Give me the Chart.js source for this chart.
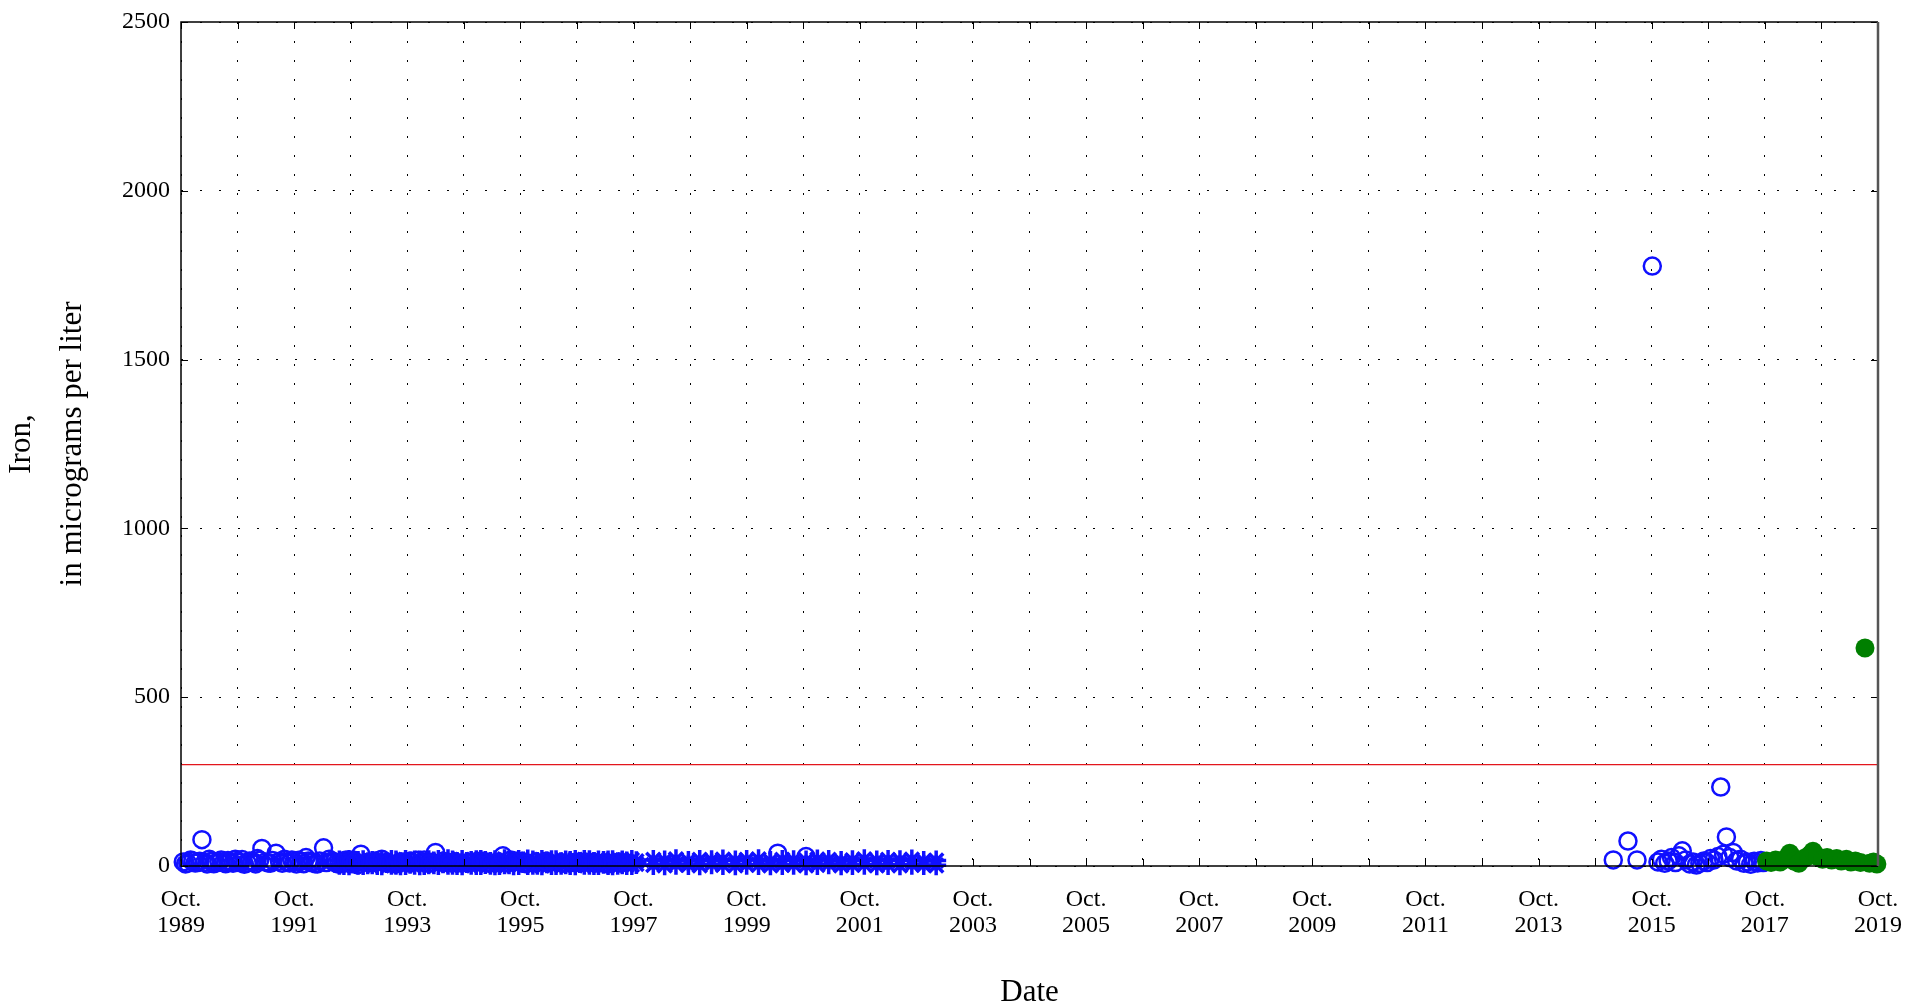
<!DOCTYPE html>
<html>
<head>
<meta charset="utf-8">
<script src="https://cdn.jsdelivr.net/npm/chart.js@4.4.1/dist/chart.umd.min.js"></script>
<style>
  body { margin: 0; background: #fff; }
  canvas { display: block; }
</style>
</head>
<body>
<canvas id="ironChart" width="1906" height="1008"></canvas>
<script>
// dates are decimal years, values are micrograms per liter
const circleDates = [
  1989.79, 1989.87, 1989.96, 1990.04, 1990.12, 1990.21, 1990.29, 1990.37, 1990.46, 1990.54,
  1990.62, 1990.71, 1990.79, 1990.87, 1990.96, 1991.04, 1991.10, 1991.18, 1991.29, 1991.37,
  1991.43, 1991.54, 1991.62, 1991.71, 1991.79, 1991.87, 1991.96, 1992.04, 1992.12, 1992.20,
  1992.27, 1992.37, 1992.46, 1992.54, 1992.62, 1992.71, 1992.79, 1992.87, 1992.93, 1993.05,
  1993.30, 1993.55, 1993.80, 1994.05, 1994.25, 1994.50, 1994.90, 1995.20, 1995.44, 1995.70,
  1996.00, 1996.50, 1996.90, 1997.30, 2000.30, 2000.80,
  2015.07, 2015.33, 2015.49, 2015.76, 2015.86, 2015.92, 2015.98, 2016.04, 2016.10, 2016.17,
  2016.23, 2016.29, 2016.35, 2016.42, 2016.48, 2016.54, 2016.60, 2016.67, 2016.73, 2016.79,
  2016.85, 2016.92, 2016.97, 2017.02, 2017.07, 2017.13, 2017.19, 2017.25, 2017.32, 2017.38,
  2017.44, 2017.50, 2017.56, 2017.62, 2017.68, 2017.72
];
const circleValues = [
  12, 8, 15, 10, 78, 6, 14, 9, 18, 7,
  12, 20, 10, 5, 15, 11, 22, 52, 9, 16,
  38, 8, 12, 18, 6, 14, 25, 10, 7, 15,
  54, 20, 12, 5, 15, 9, 18, 4, 35, 11,
  20, 6, 14, 18, 40, 10, 12, 8, 30, 15,
  10, 8, 12, 6, 38, 28,
  18, 74, 18, 1777, 12, 20, 8, 15, 25, 10,
  30, 45, 18, 6, 12, 3, 8, 15, 10, 22,
  18, 28, 234, 35, 86, 25, 40, 15, 20, 8,
  12, 5, 14, 9, 16, 10
];
// second sample set taken in the early years
const repeatDates = [
  1989.83, 1989.92, 1990.00, 1990.08, 1990.17, 1990.25, 1990.33, 1990.42, 1990.50, 1990.58,
  1990.67, 1990.75, 1990.83, 1990.92, 1991.00, 1991.07, 1991.14, 1991.24, 1991.33, 1991.49,
  1991.58, 1991.67, 1991.75, 1991.83, 1991.92, 1992.00, 1992.08, 1992.16, 1992.32, 1992.42,
  1992.50, 1992.58, 1992.67, 1992.75, 1992.83, 1993.18, 1993.42, 1993.68, 1993.92, 1994.15,
  1994.38, 1994.70, 1995.05, 1995.32, 1995.58, 1995.85, 1996.20, 1996.70, 1997.10, 1997.50
];
const repeatValues = [
  6, 18, 9, 14, 11, 20, 7, 13, 10, 16,
  8, 14, 19, 9, 13, 6, 17, 12, 8, 14,
  20, 9, 13, 17, 7, 15, 12, 6, 10, 15,
  8, 12, 18, 7, 13, 15, 9, 12, 17, 8,
  14, 9, 15, 10, 18, 7, 14, 10, 9, 12
];

const starDatesA = [
  1992.55, 1992.63, 1992.72, 1992.80, 1992.88, 1992.97, 1993.05, 1993.13,
  1993.22, 1993.30, 1993.38, 1993.47, 1993.55, 1993.63, 1993.72, 1993.80,
  1993.88, 1993.97, 1994.05, 1994.13, 1994.22, 1994.30, 1994.38, 1994.47,
  1994.55, 1994.63, 1994.72, 1994.80, 1994.88, 1994.97, 1995.05, 1995.13,
  1995.22, 1995.30, 1995.38, 1995.47, 1995.55, 1995.63, 1995.72, 1995.80,
  1995.88, 1995.97, 1996.05, 1996.13, 1996.22, 1996.30, 1996.38, 1996.47,
  1996.55, 1996.63, 1996.72, 1996.80, 1996.88, 1996.97, 1997.05, 1997.13,
  1997.22, 1997.30, 1997.38, 1997.47, 1997.55, 1997.63, 1997.72, 1997.80
];
const starValuesA = [
  4, 12, 2, 8, 15, 3, 10, 5,
  14, 2, 9, 18, 4, 11, 3, 7,
  16, 2, 10, 5, 13, 3, 8, 20,
  4, 12, 2, 9, 15, 3, 18, 6,
  12, 2, 10, 20, 5, 14, 3, 9,
  19, 4, 12, 2, 8, 17, 3, 11,
  5, 15, 2, 9, 18, 4, 12, 3,
  7, 16, 2, 10, 5, 13, 3, 6
];
const starValuesA2 = [
  16, 3, 18, 14, 4, 17, 5, 15,
  3, 17, 12, 4, 16, 2, 18, 13,
  4, 16, 3, 17, 5, 18, 12, 4,
  16, 3, 18, 12, 4, 17, 3, 15,
  4, 17, 3, 5, 16, 2, 18, 13,
  3, 16, 4, 18, 13, 3, 17, 4,
  16, 3, 18, 12, 4, 17, 3, 16,
  15, 3, 17, 4, 16, 3, 18, 14
];
const starDatesB = [
  1998.10, 1998.30, 1998.50, 1998.72, 1998.92, 1999.13, 1999.33, 1999.55, 1999.75, 1999.96,
  2000.17, 2000.38, 2000.58, 2000.80, 2001.00, 2001.20, 2001.42, 2001.62, 2001.83, 2002.05,
  2002.25, 2002.46, 2002.67, 2002.88, 2003.10
];
const starUpperB = [
  18, 16, 20, 15, 18, 17, 19, 16, 18, 20,
  15, 18, 17, 16, 19, 18, 15, 17, 20, 16,
  18, 17, 19, 15, 16
];
const starLowerB = [
  3, 2, 4, 3, 2, 5, 3, 2, 4, 3,
  2, 3, 4, 2, 3, 5, 2, 3, 4, 2,
  3, 2, 4, 3, 2
];

const filledDates = [
  2017.78, 2017.86, 2017.94, 2018.02, 2018.10, 2018.19, 2018.27, 2018.35, 2018.44, 2018.52,
  2018.60, 2018.68, 2018.77, 2018.85, 2018.93, 2019.02, 2019.10, 2019.19, 2019.27, 2019.35,
  2019.44, 2019.52, 2019.60, 2019.67, 2019.73
];
const filledValues = [
  15, 10, 18, 12, 20, 38, 14, 8, 22, 30,
  44, 28, 20, 25, 18, 22, 15, 20, 12, 15,
  10, 646, 8, 12, 6
];

const limitValue = 300;
const xStart = 1989.75;
const xEnd = 2019.75;
const xTickYears = ['1989', '1991', '1993', '1995', '1997', '1999', '2001', '2003',
  '2005', '2007', '2009', '2011', '2013', '2015', '2017', '2019'];
const yTicks = [0, 500, 1000, 1500, 2000, 2500];

const pts = (xs, ys) => xs.map((x, i) => ({x: x, y: ys[i]}));

const serif = 'Liberation Serif';

const frame = {
  id: 'frame',
  afterDatasetsDraw(chart) {
    const {ctx, chartArea: a, scales} = chart;
    ctx.save();
    ctx.strokeStyle = '#000';
    ctx.lineWidth = 1;
    scales.x.ticks.forEach(t => {
      const px = Math.round(scales.x.getPixelForValue(t.value)) + 0.5;
      ctx.beginPath();
      ctx.moveTo(px, a.bottom); ctx.lineTo(px, a.bottom - 7);
      ctx.moveTo(px, a.top); ctx.lineTo(px, a.top + 7);
      ctx.stroke();
    });
    scales.y.ticks.forEach(t => {
      const py = Math.round(scales.y.getPixelForValue(t.value)) + 0.5;
      ctx.beginPath();
      ctx.moveTo(a.left, py); ctx.lineTo(a.left + 7, py);
      ctx.moveTo(a.right, py); ctx.lineTo(a.right - 7, py);
      ctx.stroke();
    });
    ctx.lineWidth = 1.5;
    ctx.beginPath();
    ctx.moveTo(a.right, a.top);
    ctx.lineTo(a.left, a.top);
    ctx.lineTo(a.left, a.bottom);
    ctx.lineTo(a.right, a.bottom);
    ctx.stroke();
    ctx.strokeStyle = '#555';
    ctx.lineWidth = 2.5;
    ctx.beginPath();
    ctx.moveTo(a.right, a.top);
    ctx.lineTo(a.right, a.bottom);
    ctx.stroke();
    ctx.restore();
  }
};

new Chart(document.getElementById('ironChart'), {
  type: 'scatter',
  data: {
    datasets: [
      {
        data: pts(filledDates, filledValues),
        pointStyle: 'circle',
        pointRadius: 9.5,
        backgroundColor: '#007f00',
        borderColor: '#007f00',
        borderWidth: 0,
        clip: false
      },
      {
        data: pts(circleDates, circleValues).concat(pts(repeatDates, repeatValues)),
        pointStyle: 'circle',
        pointRadius: 8.5,
        backgroundColor: 'rgba(0,0,0,0)',
        borderColor: '#1010ff',
        borderWidth: 2.5,
        clip: false
      },
      {
        data: pts(starDatesA, starValuesA)
          .concat(pts(starDatesA, starValuesA2))
          .concat(pts(starDatesB, starUpperB))
          .concat(pts(starDatesB, starLowerB)),
        pointStyle: 'star',
        pointRadius: 10,
        backgroundColor: '#1010ff',
        borderColor: '#1010ff',
        borderWidth: 3.5,
        clip: false
      },
      {
        data: [{x: xStart, y: limitValue}, {x: xEnd, y: limitValue}],
        showLine: true,
        pointRadius: 0,
        borderColor: '#e3161c',
        borderWidth: 1.2
      }
    ]
  },
  options: {
    responsive: false,
    animation: false,
    devicePixelRatio: 1,
    layout: { padding: { top: 22, right: 28, left: 0, bottom: 0 } },
    plugins: {
      legend: { display: false },
      tooltip: { enabled: false }
    },
    scales: {
      x: {
        type: 'linear',
        min: xStart,
        max: xEnd,
        afterBuildTicks: (scale) => {
          const t = [];
          for (let v = xStart; v <= xEnd + 0.001; v += 1) t.push({value: v});
          scale.ticks = t;
        },
        afterFit: (scale) => { scale.height = 142; },
        grid: { color: '#000', lineWidth: 1, drawTicks: true, tickLength: 21, tickColor: 'rgba(0,0,0,0)' },
        border: { display: false, dash: [2, 17] },
        ticks: {
          autoSkip: false,
          maxRotation: 0,
          padding: 0,
          color: '#000',
          font: { family: serif, size: 24, lineHeight: '26px' },
          callback: (value, index) => index % 2 === 0 ? ['Oct.', xTickYears[index / 2]] : ''
        },
        title: {
          display: true,
          text: 'Date',
          color: '#000',
          font: { family: serif, size: 31, lineHeight: 1 },
          padding: { top: 0, bottom: 0 }
        }
      },
      y: {
        min: 0,
        max: 2500,
        afterBuildTicks: (scale) => { scale.ticks = yTicks.map(v => ({value: v})); },
        afterFit: (scale) => { scale.width = 181; },
        grid: { color: '#000', lineWidth: 1, drawTicks: true, tickLength: 11, tickColor: 'rgba(0,0,0,0)' },
        border: { display: false, dash: [2, 17] },
        ticks: {
          padding: 0,
          color: '#000',
          font: { family: serif, size: 24 },
          callback: (value) => String(value)
        },
        title: {
          display: true,
          text: ['Iron,', 'in micrograms per liter'],
          color: '#000',
          font: { family: serif, size: 31, lineHeight: '51px' },
          padding: { top: -3.5, bottom: 0 }
        }
      }
    }
  },
  plugins: [frame]
});
</script>
</body>
</html>
